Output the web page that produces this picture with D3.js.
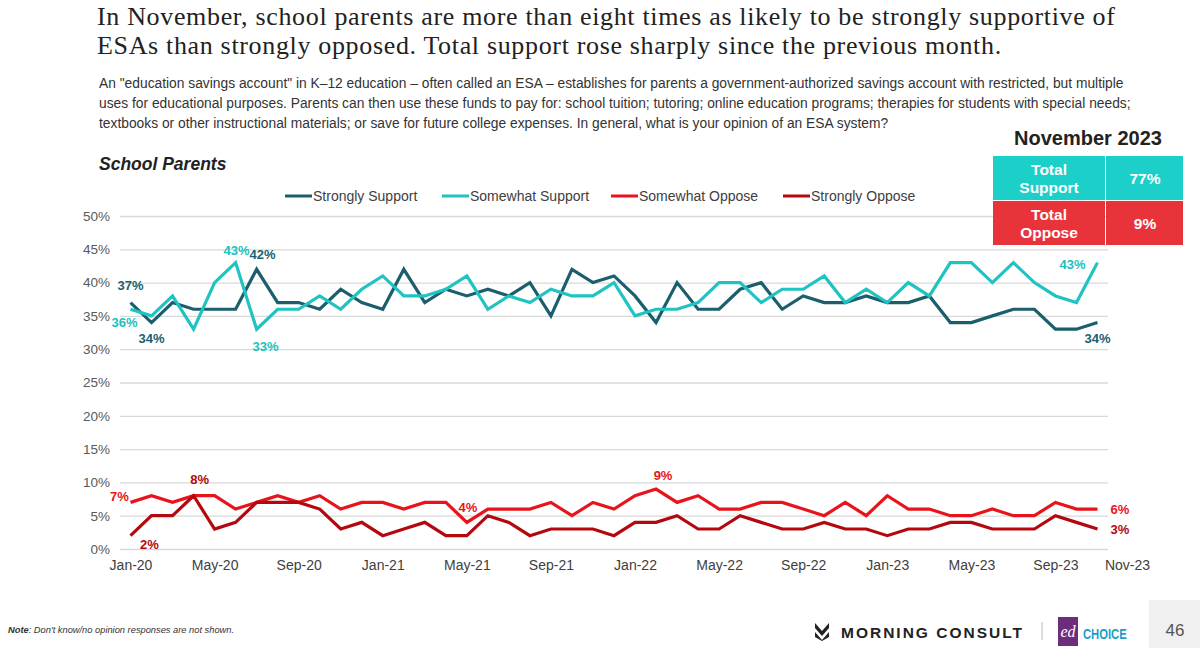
<!DOCTYPE html>
<html>
<head>
<meta charset="utf-8">
<script src="https://cdn.jsdelivr.net/npm/d3@7"></script>
<style>
  body { margin: 0; background: #fff; }
  svg { display: block; font-family: "Liberation Sans", Arial, sans-serif; }
</style>
</head>
<body>
<svg id="main" width="1200" height="648"></svg>
<script>
// months Jan-20 .. Nov-23
const months = d3.timeMonth.range(new Date(2020, 0, 1), new Date(2023, 11, 1)).map(d3.timeFormat("%b-%y"))

const stronglySupport = [37,34,37,36,36,36,42,37,37,36,39,37,36,42,37,39,38,
                         39,38,40,35,42,40,41,38,34,40,36,36,39,40,36,38,37,37,
                         38,37,37,38,34,34,35,36,36,33,33,34]
const somewhatSupport = [36,35,38,33,40,43,33,36,36,38,36,39,41,38,38,39,41,
                         36,38,37,39,38,38,40,35,36,36,37,40,40,37,39,39,41,37,
                         39,37,40,38,43,43,40,43,40,38,37,43]
const somewhatOppose  = [7,8,7,8,8,6,7,8,7,8,6,7,7,6,7,7,4,
                         6,6,6,7,5,7,6,8,9,7,8,6,6,7,7,6,5,7,
                         5,8,6,6,5,5,6,5,5,7,6,6]
const stronglyOppose  = [2,5,5,8,3,4,7,7,7,6,3,4,2,3,4,2,2,
                         5,4,2,3,3,3,2,4,4,5,3,3,5,4,3,3,4,3,
                         3,2,3,3,4,4,3,3,3,5,4,3]

const seriesNames = ["Strongly Support", "Somewhat Support", "Somewhat Oppose", "Strongly Oppose"]
const seriesColors = ["#1b5f6e", "#1fc3c1", "#e8141b", "#b4080f"]
const yTicks = [0, 5, 10, 15, 20, 25, 30, 35, 40, 45, 50]

const totalSupport = 77
const totalOppose = 9

let svg = d3.select("#main")
let allSeries = [stronglySupport, somewhatSupport, somewhatOppose, stronglyOppose]

let xScale = d3.scalePoint().domain(months).range([120, 1108]).padding(0.5)
let yScale = d3.scaleLinear().domain([0, 50]).range([549, 216])

// Title + question text
let title = svg.append("text")
    .attr("font-family", "'Liberation Serif', 'DejaVu Serif', serif")
    .attr("font-size", 26).attr("letter-spacing", 0.66).attr("fill", "#222")
title.append("tspan").attr("x", 97).attr("y", 25)
    .text("In November, school parents are more than eight times as likely to be strongly supportive of")
title.append("tspan").attr("x", 97).attr("y", 54)
    .text("ESAs than strongly opposed. Total support rose sharply since the previous month.")

let question = [
    "An \"education savings account\" in K\u201312 education \u2013 often called an ESA \u2013 establishes for parents a government-authorized savings account with restricted, but multiple",
    "uses for educational purposes. Parents can then use these funds to pay for: school tuition; tutoring; online education programs; therapies for students with special needs;",
    "textbooks or other instructional materials; or save for future college expenses. In general, what is your opinion of an ESA system?"
]
svg.append("g").selectAll("text").data(question).enter().append("text")
    .attr("x", 99).attr("y", (d, i) => 88 + i * 20)
    .attr("font-size", 13.8).attr("fill", "#333")
    .text(d => d)

svg.append("text").attr("x", 99).attr("y", 170)
    .attr("font-size", 17.5).attr("font-weight", "bold").attr("font-style", "italic")
    .attr("fill", "#222").text("School Parents")

// Legend
let legendX = [285, 442, 611, 783]
let legend = svg.append("g").selectAll("g").data(seriesNames).enter().append("g")
    .attr("transform", (d, i) => `translate(${legendX[i]},196)`)
legend.append("line").attr("x1", 0).attr("x2", 27).attr("y1", 0).attr("y2", 0)
    .attr("stroke", (d, i) => seriesColors[i]).attr("stroke-width", 3)
legend.append("text").attr("x", 28).attr("y", 5)
    .attr("font-size", 14).attr("fill", "#404040").text(d => d)

// Gridlines + y axis
let y_axis = d3.axisLeft(yScale).tickValues(yTicks).tickFormat(d => d + "%")
    .tickSize(-(1108 - 120)).tickPadding(10)
let yg = svg.append("g").attr("transform", "translate(120,0)").call(y_axis)
yg.select(".domain").remove()
yg.selectAll(".tick line").attr("stroke", "#d9d9d9").attr("stroke-width", 1.3)
yg.selectAll(".tick text").attr("font-size", 13.5).attr("fill", "#595959")
    .attr("font-family", "'Liberation Sans', Arial, sans-serif")

// x axis, one label every four months
let x_axis = d3.axisBottom(xScale).tickValues(months.filter((d, i) => i % 4 == 0)).tickSize(0).tickPadding(11)
let xg = svg.append("g").attr("transform", "translate(0,549)").call(x_axis)
xg.select(".domain").remove()
xg.selectAll(".tick text").attr("font-size", 14).attr("fill", "#404040")
    .attr("font-family", "'Liberation Sans', Arial, sans-serif")
svg.append("text").attr("x", xScale(months[months.length - 1]) + 30).attr("y", 570)
    .attr("text-anchor", "middle").attr("font-size", 14).attr("fill", "#404040").text("Nov-23")

// Lines
let line = d3.line().x((d, i) => xScale(months[i])).y(d => yScale(d))
svg.append("g").selectAll("path").data(allSeries).enter().append("path")
    .attr("d", d => line(d))
    .attr("fill", "none")
    .attr("stroke", (d, i) => seriesColors[i])
    .attr("stroke-width", 3.2)
    .attr("stroke-linejoin", "miter")

// Data labels (series, month index, offset)
let labels = [
    {s: 0, i: 0, dx: 0, dy: -13},
    {s: 1, i: 0, dx: -6, dy: 18},
    {s: 0, i: 1, dx: 0, dy: 20},
    {s: 1, i: 5, dx: 1, dy: -8},
    {s: 0, i: 6, dx: 6, dy: -10},
    {s: 1, i: 6, dx: 9, dy: 22},
    {s: 1, i: 46, dx: -25, dy: 6},
    {s: 0, i: 46, dx: 0, dy: 20},
    {s: 2, i: 0, dx: -11, dy: -1},
    {s: 3, i: 3, dx: 6, dy: -12},
    {s: 3, i: 0, dx: 19, dy: 13},
    {s: 2, i: 16, dx: 1, dy: -10},
    {s: 2, i: 25, dx: 7, dy: -9},
    {s: 2, i: 46, dx: 13, dy: 5},
    {s: 3, i: 46, dx: 13, dy: 5}
]
svg.append("g").selectAll("text").data(labels).enter().append("text")
    .attr("x", d => xScale(months[d.i]) + d.dx)
    .attr("y", d => yScale(allSeries[d.s][d.i]) + d.dy)
    .attr("text-anchor", d => d.i == 46 && d.s >= 2 ? "start" : "middle")
    .attr("font-size", 13).attr("font-weight", "bold")
    .attr("fill", d => d.s == 1 ? "#1cbfbd" : seriesColors[d.s])
    .text(d => allSeries[d.s][d.i] + "%")

// November 2023 summary table
svg.append("text").attr("x", 1088).attr("y", 145).attr("text-anchor", "middle")
    .attr("font-size", 20).attr("font-weight", "bold").attr("fill", "#222").text("November 2023")
let boxRows = [
    {name: ["Total", "Support"], value: totalSupport, color: "#1ccfc8", y: 156},
    {name: ["Total", "Oppose"], value: totalOppose, color: "#e8333b", y: 201}
]
let rows = svg.append("g").selectAll("g").data(boxRows).enter().append("g")
    .attr("transform", d => `translate(0,${d.y})`)
rows.append("rect").attr("x", 993).attr("width", 112).attr("height", 44).attr("fill", d => d.color)
rows.append("rect").attr("x", 1106).attr("width", 77).attr("height", 44).attr("fill", d => d.color)
rows.append("text").attr("x", 1049).attr("y", 19).attr("text-anchor", "middle")
    .attr("font-size", 15.5).attr("font-weight", "bold").attr("fill", "#fff").text(d => d.name[0])
rows.append("text").attr("x", 1049).attr("y", 37).attr("text-anchor", "middle")
    .attr("font-size", 15.5).attr("font-weight", "bold").attr("fill", "#fff").text(d => d.name[1])
rows.append("text").attr("x", 1145).attr("y", 28).attr("text-anchor", "middle")
    .attr("font-size", 15.5).attr("font-weight", "bold").attr("fill", "#fff").text(d => d.value + "%")

// Footer
let note = svg.append("text").attr("x", 8).attr("y", 633).attr("font-size", 9.3)
    .attr("font-style", "italic").attr("fill", "#333")
note.append("tspan").attr("font-weight", "bold").text("Note")
note.append("tspan").text(": Don't know/no opinion responses are not shown.")

// Morning Consult mark
svg.append("path").attr("d", "M815,623 L822,631 L829,623 L829,628 L822,636 L815,628 Z M815,632 L822,640 L829,632 L829,637 L822,641 L815,637 Z")
    .attr("fill", "#222")
svg.append("text").attr("x", 841).attr("y", 638).attr("font-size", 15.5).attr("font-weight", "bold")
    .attr("letter-spacing", 2).attr("fill", "#222").text("MORNING CONSULT")
svg.append("line").attr("x1", 1042).attr("x2", 1042).attr("y1", 622).attr("y2", 640)
    .attr("stroke", "#bbb").attr("stroke-width", 1)

// EdChoice mark
svg.append("rect").attr("x", 1058).attr("y", 617).attr("width", 20).attr("height", 29).attr("fill", "#6b2d7c")
svg.append("text").attr("x", 1068).attr("y", 637).attr("text-anchor", "middle")
    .attr("font-family", "'Liberation Serif', serif").attr("font-style", "italic")
    .attr("font-size", 16).attr("fill", "#fff").text("ed")
svg.append("text").attr("x", 1083).attr("y", 639).attr("font-size", 15).attr("font-weight", "bold")
    .attr("fill", "#1a9ec9").attr("transform", "translate(1083,639) scale(0.75,1) translate(-1083,-639)")
    .text("CHOICE")

// Page number
svg.append("rect").attr("x", 1149).attr("y", 600).attr("width", 51).attr("height", 48).attr("fill", "#f0f0f0")
svg.append("text").attr("x", 1175).attr("y", 636).attr("text-anchor", "middle")
    .attr("font-size", 17).attr("fill", "#555").text("46")
</script>
</body>
</html>
